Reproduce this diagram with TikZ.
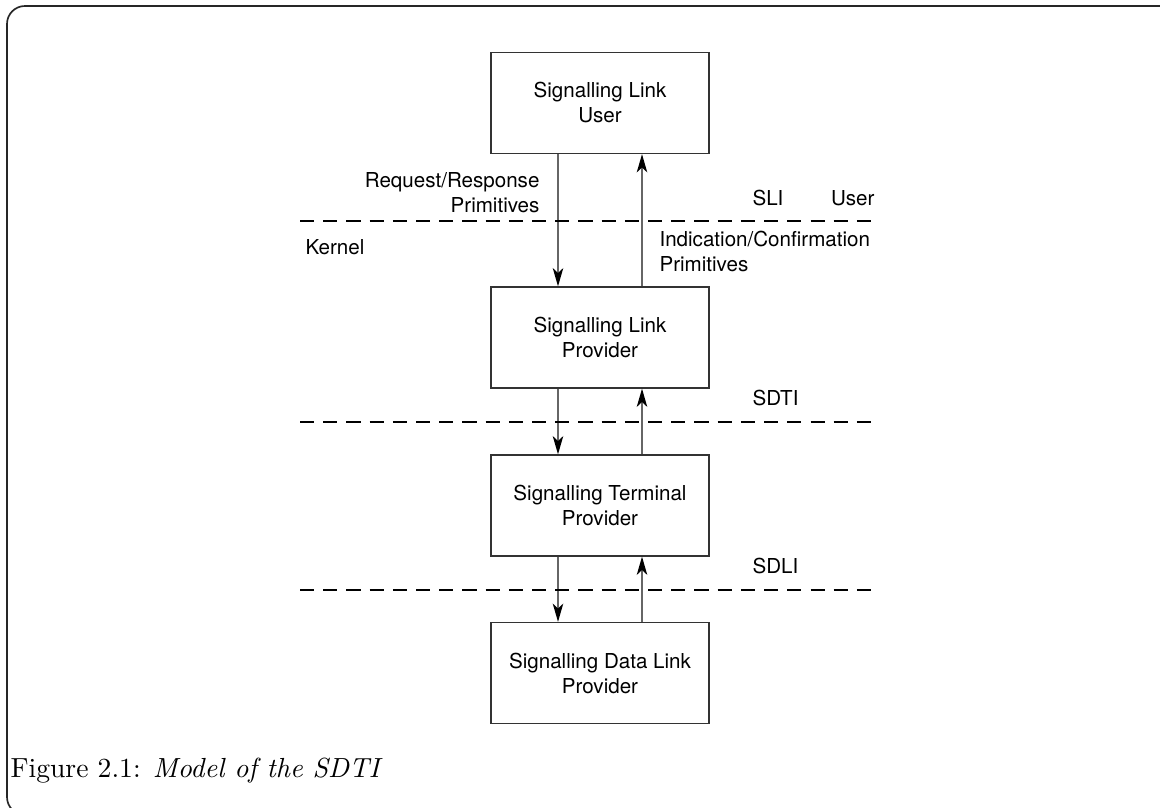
\documentclass[tikz,border=0pt]{standalone}
\usepackage{fontspec}
\setsansfont{TeX Gyre Heros}
\usetikzlibrary{arrows.meta}
\begin{document}
\begin{tikzpicture}[x=0.362pt,y=-0.362pt,
  sf/.style={font=\sffamily\fontsize{7.45pt}{9.05pt}\selectfont, inner sep=0pt},
  layerbox/.style={draw=black!80, line width=0.45pt, minimum width=78.9pt, minimum height=36.6pt, align=center, inner sep=0pt, font=\sffamily\fontsize{7.45pt}{9.05pt}\selectfont},
  arr/.style={draw=black!60, line width=0.5pt, -{Stealth[length=6.6pt,width=3.8pt,inset=1.8pt,color=black,fill=black]}},
  sep/.style={draw=black, line width=0.45pt, dash pattern=on 5.1pt off 3.3pt}
]
\useasboundingbox (0,0) rectangle (1160,808);
\clip (0,0) rectangle (1160,808);
\draw[black!85, line width=0.6pt, rounded corners=6.5pt] (7,6) rectangle (1200,815);

% boxes
\node[layerbox] (b1) at (600,103) {Signalling Link\\User};
\node[layerbox] (b2) at (600,337.5) {Signalling Link\\Provider};
\node[layerbox] (b3) at (600,505.5) {Signalling Terminal\\Provider};
\node[layerbox] (b4) at (600,673) {Signalling Data Link\\Provider};

% arrow columns
\coordinate (dn) at (558,0);
\coordinate (up) at (642,0);

\draw[arr] (b1.south -| dn) -- (b2.north -| dn);
\draw[arr] (b2.north -| up) -- (b1.south -| up);
\draw[arr] (b2.south -| dn) -- (b3.north -| dn);
\draw[arr] (b3.north -| up) -- (b2.south -| up);
\draw[arr] (b3.south -| dn) -- (b4.north -| dn);
\draw[arr] (b4.north -| up) -- (b3.south -| up);

% interface lines
\coordinate (s1a) at (300,221); \coordinate (s1b) at (878,221);
\coordinate (s2a) at (300,422); \coordinate (s2b) at (878,422);
\coordinate (s3a) at (300,590); \coordinate (s3b) at (878,590);
\draw[sep] (s1a) -- (s1b);
\draw[sep] (s2a) -- (s2b);
\draw[sep] (s3a) -- (s3b);

% labels
\node[sf, align=right, anchor=east] (req) at (540,193) {Request/Response\\Primitives};
\node[sf, align=left, anchor=west] (ind) at (659,251.5) {Indication/Confirmation\\Primitives};
\node[sf, anchor=west] (sli) at (752,198) {SLI};
\node[sf, anchor=east] (usr) at (875,198) {User};
\node[sf, anchor=west] (ker) at (305,247) {Kernel};
\node[sf, anchor=west] (sdti) at (752,398) {SDTI};
\node[sf, anchor=west] (sdli) at (752,566) {SDLI};

% caption
\node[anchor=base west, inner sep=0pt, font=\fontsize{10pt}{12pt}\selectfont] (cap) at (10,777) {Figure 2.1: \textit{Model of the SDTI}};
\end{tikzpicture}
\end{document}
